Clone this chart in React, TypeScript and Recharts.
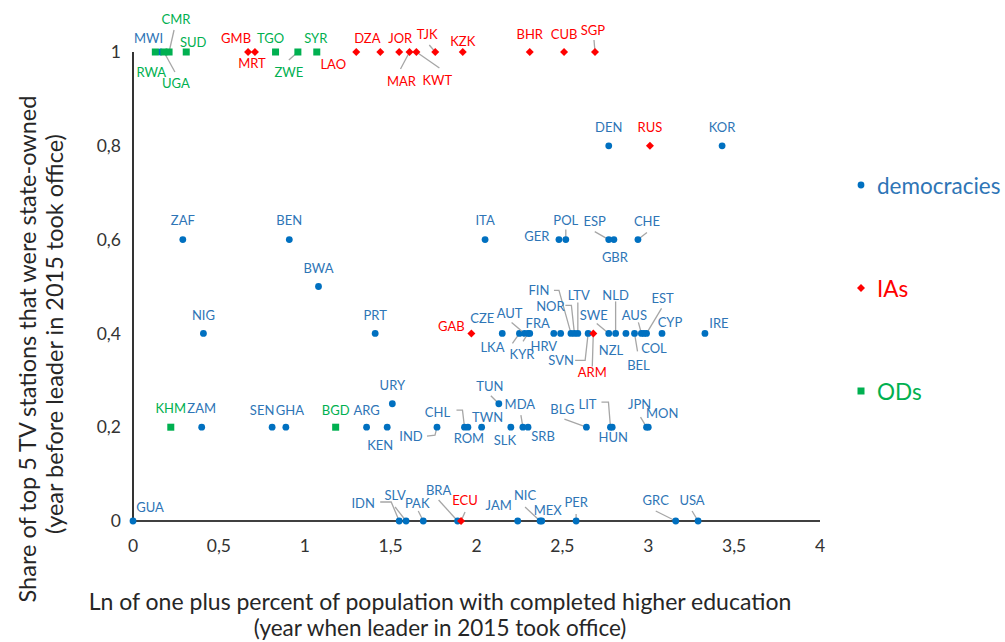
import React from "react";
import { ScatterChart, Scatter, XAxis, YAxis } from "recharts";

// democracies
const demCodes = ["MWI", "DEN", "KOR", "ZAF", "BEN", "ITA", "GER", "POL", "ESP", "GBR", "CHE", "BWA",
  "NIG", "PRT", "CZE", "LKA", "AUT", "KYR", "FRA", "HRV", "", "FIN", "NOR", "LTV", "SVN", "SWE", "NLD",
  "NZL", "BEL", "AUS", "COL", "EST", "CYP", "IRE", "URY", "TUN", "ZAM", "SEN", "GHA", "ARG", "KEN",
  "IND", "CHL", "ROM", "TWN", "SLK", "MDA", "SRB", "BLG", "LIT", "HUN", "JPN", "MON", "GUA", "IDN",
  "SLV", "PAK", "BRA", "JAM", "NIC", "MEX", "PER", "GRC", "USA"];
const demX = [0.16, 2.77, 3.43, 0.29, 0.91, 2.05, 2.48, 2.52, 2.77, 2.8, 2.94, 1.08,
  0.41, 1.41, 2.15, 2.25, 2.28, 2.3, 2.31, 2.45, 2.49, 2.55, 2.57, 2.59, 2.65, 2.77, 2.81,
  2.87, 2.92, 2.96, 2.975, 2.99, 3.08, 3.33, 1.51, 2.13, 0.4, 0.81, 0.89, 1.36, 1.48,
  1.77, 1.93, 1.95, 2.03, 2.2, 2.27, 2.3, 2.64, 2.78, 2.79, 2.99, 3.0, 0, 1.55,
  1.59, 1.69, 1.89, 2.24, 2.37, 2.38, 2.58, 3.16, 3.29];
const demY = [1, 0.8, 0.8, 0.6, 0.6, 0.6, 0.6, 0.6, 0.6, 0.6, 0.6, 0.5,
  0.4, 0.4, 0.4, 0.4, 0.4, 0.4, 0.4, 0.4, 0.4, 0.4, 0.4, 0.4, 0.4, 0.4, 0.4,
  0.4, 0.4, 0.4, 0.4, 0.4, 0.4, 0.4, 0.25, 0.25, 0.2, 0.2, 0.2, 0.2, 0.2,
  0.2, 0.2, 0.2, 0.2, 0.2, 0.2, 0.2, 0.2, 0.2, 0.2, 0.2, 0.2, 0, 0,
  0, 0, 0, 0, 0, 0, 0, 0, 0];

// IAs
const iaCodes = ["GMB", "MRT", "LAO", "DZA", "JOR", "MAR", "KWT", "TJK", "KZK", "BHR", "CUB", "SGP", "RUS", "GAB", "ARM", "ECU"];
const iaX = [0.67, 0.71, 1.3, 1.44, 1.55, 1.61, 1.65, 1.76, 1.92, 2.31, 2.51, 2.69, 3.01, 1.97, 2.68, 1.91];
const iaY = [1, 1, 1, 1, 1, 1, 1, 1, 1, 1, 1, 1, 0.8, 0.4, 0.4, 0];

// ODs
const odCodes = ["RWA", "UGA", "CMR", "SUD", "TGO", "ZWE", "SYR", "KHM", "BGD"];
const odX = [0.13, 0.18, 0.21, 0.31, 0.83, 0.96, 1.07, 0.22, 1.18];
const odY = [1, 1, 1, 1, 1, 1, 1, 0.2, 0.2];

const xTicks = [0, 0.5, 1, 1.5, 2, 2.5, 3, 3.5, 4];
const yTicks = [0, 0.2, 0.4, 0.6, 0.8, 1];

// label placement: [dx, dy, leader points]
const labelPos: Record<string, [number, number, number[][]?]> = {
  MWI: [-12, -14], RWA: [-4, 20], UGA: [12, 31, [[11, 20]]], CMR: [7, -33, [[5, -22]]], SUD: [7, -10],
  GMB: [-12, -14], MRT: [-3, 11], TGO: [-5, -14], ZWE: [-9, 20, [[-9, 8]]], SYR: [-1, -14],
  LAO: [-23, 12], DZA: [-13, -14], JOR: [1, -14], MAR: [-8, 29, [[-9, 17]]], KWT: [21, 28, [[23, 16]]],
  TJK: [-8, -18, [[-6, -7]]], KZK: [0, -11], BHR: [0, -18], CUB: [0, -18], SGP: [-2, -22, [[-1, -12]]],
  DEN: [0, -19], RUS: [0, -19], KOR: [0, -19],
  ZAF: [0, -20], BEN: [0, -20], ITA: [0, -20], GER: [-22, -4], POL: [0, -20, [[0, -10]]],
  ESP: [-14, -19, [[-14, -8]]], GBR: [1, 17], CHE: [9, -19, [[9, -7]]], BWA: [0, -19],
  NIG: [0, -18], PRT: [0, -18], GAB: [-20, -7], CZE: [-20, -15], LKA: [-27, 14, [[-7, 10]]],
  AUT: [-15, -20, [[-13, -11]]], KYR: [-6, 21, [[-5, 8]]], FRA: [8, -10], HRV: [-10, 13],
  FIN: [-32, -43, [[-17, -43], [-12, -43]]], NOR: [-24, -27, [[-9, -28], [-3, -28]]],
  LTV: [1, -38, [[0, -31]]], SVN: [-27, 27, [[-13, 27], [-3, 27]]], ARM: [-1, 39, [[-1, 33]]],
  SWE: [-15, -18, [[-12, -10]]], NZL: [-15, 17], NLD: [0, -38, [[0, -32]]], BEL: [4, 32, [[3, 18]]],
  COL: [10, 15], AUS: [-7, -18, [[-3, -11]]], EST: [16, -35, [[15, -25]]], CYP: [8, -11], IRE: [14, -10],
  URY: [0, -19], TUN: [-9, -18, [[-8, -8]]],
  KHM: [0, -19], ZAM: [0, -19], SEN: [-10, -17], GHA: [4, -17], BGD: [0, -17], ARG: [0, -17],
  KEN: [-7, 18], IND: [-26, 9, [[-10, 9], [-2, 8]]], CHL: [-27, -15, [[-8, -17], [-2, -17]]],
  ROM: [1, 11], TWN: [6, -10], SLK: [-6, 13], MDA: [-3, -23, [[-2, -12]]], SRB: [15, 9],
  BLG: [-24, -18, [[-22, -8]]], LIT: [-23, -23, [[-9, -25], [-2, -25]]], HUN: [1, 10],
  JPN: [-7, -23, [[-6, -10]]], MON: [14, -14],
  GUA: [17, -14], IDN: [-36, -18, [[-19, -19], [-8, -19]]], SLV: [-11, -26, [[-11, -14]]],
  PAK: [-6, -18, [[-5, -10]]], BRA: [-19, -31, [[-19, -21]]], ECU: [4, -21, [[4, -9]]],
  JAM: [-19, -16], NIC: [-15, -26, [[-15, -14]]], MEX: [6, -11], PER: [0, -19, [[0, -7]]],
  GRC: [-20, -21, [[-20, -10]]], USA: [-6, -21, [[-6, -10]]],
};

const BLUE = "#0070C0";
const BLUE_TXT = "#2E75B6";
const RED = "#FF0000";
const GREEN = "#00B050";
const FONT = "Lato, 'Open Sans', sans-serif";

const toRows = (codes: string[], xs: number[], ys: number[]) =>
  codes.map((code, i) => ({ code, x: xs[i], y: ys[i] }));

const demData = toRows(demCodes, demX, demY);
const iaData = toRows(iaCodes, iaX, iaY);
const odData = toRows(odCodes, odX, odY);

const fmt = (v: number) => String(v).replace(".", ",");

const Marker = ({ kind, cx, cy, fill }: { kind: string; cx: number; cy: number; fill: string }) => {
  if (kind === "diamond") {
    return <polygon points={`${cx},${cy - 4} ${cx + 4},${cy} ${cx},${cy + 4} ${cx - 4},${cy}`} fill={fill} />;
  }
  if (kind === "square") {
    return <rect x={cx - 3.5} y={cy - 3.5} width={7} height={7} fill={fill} />;
  }
  return <circle cx={cx} cy={cy} r={3.4} fill={fill} />;
};

const makeShape = (kind: string, fill: string, textColor: string) => (props: any) => {
  const { cx, cy, payload } = props;
  const pos = labelPos[payload.code];
  return (
    <g>
      {pos && pos[2] && (
        <polyline
          points={[...pos[2], [0, 0]].map(p => `${cx + p[0]},${cy + p[1]}`).join(" ")}
          fill="none"
          stroke="#A6A6A6"
          strokeWidth={1.3}
        />
      )}
      <Marker kind={kind} cx={cx} cy={cy} fill={fill} />
      {pos && (
        <text
          x={cx + pos[0]}
          y={cy + pos[1]}
          textAnchor="middle"
          dominantBaseline="central"
          fontSize={13}
          fontFamily={FONT}
          fill={textColor}
        >
          {payload.code}
        </text>
      )}
    </g>
  );
};

const legendItems = [
  { name: "democracies", kind: "circle", color: BLUE, y: 185 },
  { name: "IAs", kind: "diamond", color: RED, y: 288 },
  { name: "ODs", kind: "square", color: GREEN, y: 391 },
];

export default function App() {
  return (
    <div style={{ position: "absolute", left: 0, top: 0, width: 1005, height: 642, background: "#fff" }}>
      <ScatterChart width={1005} height={642} margin={{ top: 52, right: 185, bottom: 81, left: 73 }}>
        <XAxis
          type="number"
          dataKey="x"
          domain={[0, 4]}
          ticks={xTicks}
          tickFormatter={fmt}
          height={40}
          tickLine={false}
          tickSize={0}
          tickMargin={19}
          axisLine={{ stroke: "#000", strokeWidth: 1.6 }}
          tick={{ fill: "#333", fontSize: 17.5, fontFamily: FONT }}
        />
        <YAxis
          type="number"
          dataKey="y"
          domain={[0, 1]}
          ticks={yTicks}
          tickFormatter={fmt}
          width={60}
          tickLine={false}
          tickSize={0}
          tickMargin={12}
          axisLine={{ stroke: "#000", strokeWidth: 1.6 }}
          tick={{ fill: "#333", fontSize: 17.5, fontFamily: FONT }}
        />
        <Scatter name="democracies" data={demData} shape={makeShape("circle", BLUE, BLUE_TXT)} isAnimationActive={false} />
        <Scatter name="IAs" data={iaData} shape={makeShape("diamond", RED, RED)} isAnimationActive={false} />
        <Scatter name="ODs" data={odData} shape={makeShape("square", GREEN, GREEN)} isAnimationActive={false} />
      </ScatterChart>
      <svg width={1005} height={642} style={{ position: "absolute", left: 0, top: 0, pointerEvents: "none" }}>
        <g fontFamily={FONT} fill="#262626">
          <text x={440} y={601} textAnchor="middle" dominantBaseline="central" fontSize={23}>
            Ln of one plus percent of population with completed higher education
          </text>
          <text x={440} y={627} textAnchor="middle" dominantBaseline="central" fontSize={22.5}>
            (year when leader in 2015 took office)
          </text>
          <text transform="translate(27,349) rotate(-90)" textAnchor="middle" dominantBaseline="central" fontSize={23.5}>
            Share of top 5 TV stations that were state-owned
          </text>
          <text transform="translate(54,334) rotate(-90)" textAnchor="middle" dominantBaseline="central" fontSize={23.5}>
            (year before leader in 2015 took office)
          </text>
        </g>
        {legendItems.map(item => (
          <g key={item.name}>
            <Marker kind={item.kind} cx={861} cy={item.y} fill={item.color} />
            <text x={877} y={item.y} dominantBaseline="central" fontSize={22.5} fontFamily={FONT} fill={item.color === BLUE ? BLUE_TXT : item.color}>
              {item.name}
            </text>
          </g>
        ))}
      </svg>
    </div>
  );
}
